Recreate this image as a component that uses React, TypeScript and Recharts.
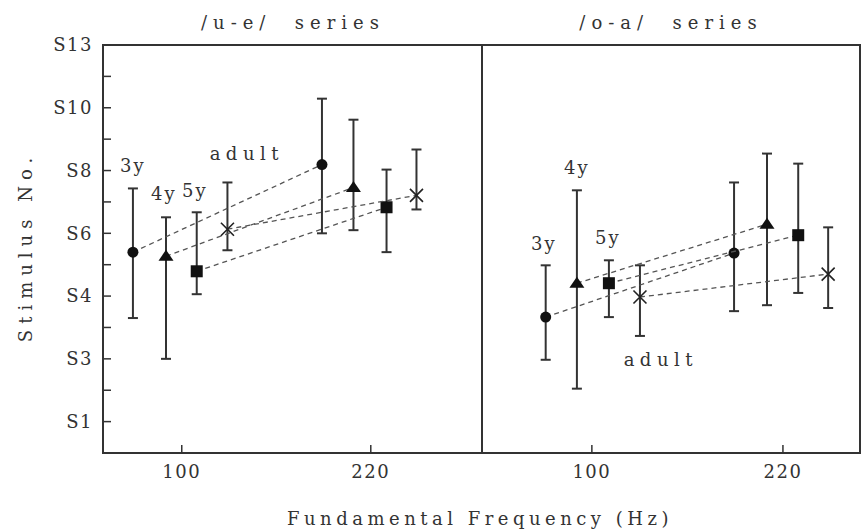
import { ErrorBar, ReferenceArea, ReferenceDot, Scatter, ScatterChart, XAxis, YAxis } from 'recharts'

const FONT = '"DejaVu Serif", serif'
const INK = '#333'

const groups = ['3y', '4y', '5y', 'adult']
const stimulusLabels = ['S1', 'S3', 'S4', 'S6', 'S8', 'S10', 'S13']
const stimulusTicks = [0, 1, 2, 3, 4, 5, 6, 7, 8, 9, 10, 11, 12]
const freqTicks = [100, 220]

// /u-e/ series, one entry per group (3y, 4y, 5y, adult)
const ueFreqLow = [69, 90, 109.5, 129]
const ueFreqHigh = [189, 209, 230, 249]
const ueMeanLow = [5.4, 5.27, 4.79, 6.13]
const ueMeanHigh = [8.19, 7.46, 6.83, 7.21]
const ueTopLow = [7.43, 6.51, 6.67, 7.62]
const ueTopHigh = [10.29, 9.62, 8.03, 8.67]
const ueBottomLow = [3.3, 2.0, 4.06, 5.46]
const ueBottomHigh = [6.0, 6.1, 5.4, 6.76]
const ueLabelFreq = [69, 88.6, 108.3, 141.3]
const ueLabelStim = [8.16, 7.27, 7.37, 8.54]

// /o-a/ series
const oaFreqLow = [71, 90.6, 110.7, 130.2]
const oaFreqHigh = [189.3, 210, 229.6, 248.4]
const oaMeanLow = [3.33, 4.41, 4.41, 3.97]
const oaMeanHigh = [5.37, 6.29, 5.94, 4.7]
const oaTopLow = [4.98, 7.37, 5.14, 4.98]
const oaTopHigh = [7.62, 8.54, 8.22, 6.19]
const oaBottomLow = [1.97, 1.05, 3.33, 2.73]
const oaBottomHigh = [3.52, 3.71, 4.1, 3.62]
const oaLabelFreq = [69.8, 90.6, 110, 143.3]
const oaLabelStim = [5.68, 8.1, 5.87, 1.97]

type Pt = { x: number; y: number; err: [number, number] }

function buildSeries(
  fLow: number[], fHigh: number[], mLow: number[], mHigh: number[],
  tLow: number[], tHigh: number[], bLow: number[], bHigh: number[],
): Pt[][] {
  return groups.map((_, i) => [
    { x: fLow[i], y: mLow[i], err: [mLow[i] - bLow[i], tLow[i] - mLow[i]] },
    { x: fHigh[i], y: mHigh[i], err: [mHigh[i] - bHigh[i], tHigh[i] - mHigh[i]] },
  ])
}

const ueSeries = buildSeries(ueFreqLow, ueFreqHigh, ueMeanLow, ueMeanHigh, ueTopLow, ueTopHigh, ueBottomLow, ueBottomHigh)
const oaSeries = buildSeries(oaFreqLow, oaFreqHigh, oaMeanLow, oaMeanHigh, oaTopLow, oaTopHigh, oaBottomLow, oaBottomHigh)

const CircleMark = ({ cx, cy }: any) => <circle cx={cx} cy={cy} r={5.5} fill="#111" />
const TriangleMark = ({ cx, cy }: any) => (
  <path d={`M${cx},${cy - 6.5}L${cx + 7.5},${cy + 4.5}L${cx - 7.5},${cy + 4.5}Z`} fill="#111" />
)
const SquareMark = ({ cx, cy }: any) => <rect x={cx - 6} y={cy - 6} width={12} height={12} fill="#111" />
const CrossMark = ({ cx, cy }: any) => (
  <path
    d={`M${cx - 6.5},${cy - 6.5}L${cx + 6.5},${cy + 6.5}M${cx + 6.5},${cy - 6.5}L${cx - 6.5},${cy + 6.5}`}
    stroke="#222"
    strokeWidth={1.6}
    fill="none"
  />
)
const markers = [CircleMark, TriangleMark, SquareMark, CrossMark]

const tickStyle = { fill: INK, fontSize: 18, fontFamily: FONT, letterSpacing: 1.5 }

interface PanelProps {
  series: Pt[][]
  labelFreq: number[]
  labelStim: number[]
  domain: [number, number]
  side: 'left' | 'right'
}

function Panel({ series, labelFreq, labelStim, domain, side }: PanelProps) {
  const isLeft = side === 'left'
  return (
    <ScatterChart
      width={isLeft ? 490 : 387}
      height={531}
      margin={isLeft ? { top: 45, right: 8, bottom: 48, left: 43 } : { top: 45, right: 0, bottom: 48, left: 8 }}
    >
      <XAxis
        type="number"
        dataKey="x"
        domain={domain}
        ticks={freqTicks}
        allowDataOverflow
        height={30}
        tickSize={-8}
        tickMargin={20}
        tick={tickStyle}
        axisLine={{ stroke: INK, strokeWidth: 2 }}
        tickLine={{ stroke: INK, strokeWidth: 1.5 }}
      />
      {isLeft ? (
        <YAxis
          type="number"
          dataKey="y"
          domain={[-1, 12]}
          ticks={stimulusTicks}
          allowDataOverflow
          width={60}
          tickSize={-8}
          tickMargin={18}
          tick={tickStyle}
          tickFormatter={(v: number) => (v % 2 === 0 ? stimulusLabels[v / 2] : '')}
          axisLine={{ stroke: INK, strokeWidth: 2 }}
          tickLine={{ stroke: INK, strokeWidth: 1.5 }}
        />
      ) : (
        <YAxis
          type="number"
          dataKey="y"
          orientation="right"
          domain={[-1, 12]}
          ticks={stimulusTicks}
          allowDataOverflow
          width={1}
          tickSize={-8}
          tick={false}
          axisLine={{ stroke: INK, strokeWidth: 2 }}
          tickLine={{ stroke: INK, strokeWidth: 1.5 }}
        />
      )}
      <ReferenceArea
        x1={domain[0]}
        x2={domain[1]}
        y1={-1}
        y2={12}
        fill="none"
        fillOpacity={0}
        stroke={INK}
        strokeWidth={2}
        ifOverflow="visible"
      />
      {series.map((data, i) => (
        <Scatter
          key={groups[i]}
          name={groups[i]}
          data={data}
          shape={markers[i]}
          line={{ stroke: '#555', strokeWidth: 1.3, strokeDasharray: '5 4' }}
          isAnimationActive={false}
        >
          <ErrorBar dataKey="err" direction="y" width={5} stroke={INK} strokeWidth={2} />
        </Scatter>
      ))}
      {groups.map((g, i) => (
        <ReferenceDot
          key={`lbl-${g}`}
          x={labelFreq[i]}
          y={labelStim[i]}
          r={0}
          fill="none"
          stroke="none"
          ifOverflow="visible"
          label={{
            content: ({ viewBox }: any) => (
              <text
                x={viewBox.x + viewBox.width / 2}
                y={viewBox.y + viewBox.height / 2}
                textAnchor="middle"
                dominantBaseline="central"
                fill={INK}
                fontSize={18}
                fontFamily={FONT}
                letterSpacing={g === 'adult' ? 5.5 : 2}
              >
                {g}
              </text>
            ),
          }}
        />
      ))}
    </ScatterChart>
  )
}

export default function App() {
  return (
    <div style={{ position: 'absolute', left: 0, top: 0, width: 861, height: 531, background: '#fff' }}>
      <div style={{ position: 'absolute', left: 0, top: 0 }}>
        <Panel series={ueSeries} labelFreq={ueLabelFreq} labelStim={ueLabelStim} domain={[50, 290.6]} side="left" />
      </div>
      <div style={{ position: 'absolute', left: 474, top: 0 }}>
        <Panel series={oaSeries} labelFreq={oaLabelFreq} labelStim={oaLabelStim} domain={[31, 268.4]} side="right" />
      </div>
      <svg width={861} height={531} style={{ position: 'absolute', left: 0, top: 0, pointerEvents: 'none' }}>
        <g fill={INK} fontFamily={FONT} fontSize={18}>
          <text x={293} y={29} textAnchor="middle" letterSpacing={6} style={{ whiteSpace: 'pre' }}>
            {'/u-e/  series'}
          </text>
          <text x={671} y={29} textAnchor="middle" letterSpacing={6} style={{ whiteSpace: 'pre' }}>
            {'/o-a/  series'}
          </text>
          <text x={480} y={525} textAnchor="middle" letterSpacing={4.5}>
            Fundamental Frequency (Hz)
          </text>
          <text
            x={25}
            y={247}
            textAnchor="middle"
            dominantBaseline="central"
            letterSpacing={6}
            transform="rotate(-90 25 247)"
          >
            Stimulus No.
          </text>
        </g>
      </svg>
    </div>
  )
}
